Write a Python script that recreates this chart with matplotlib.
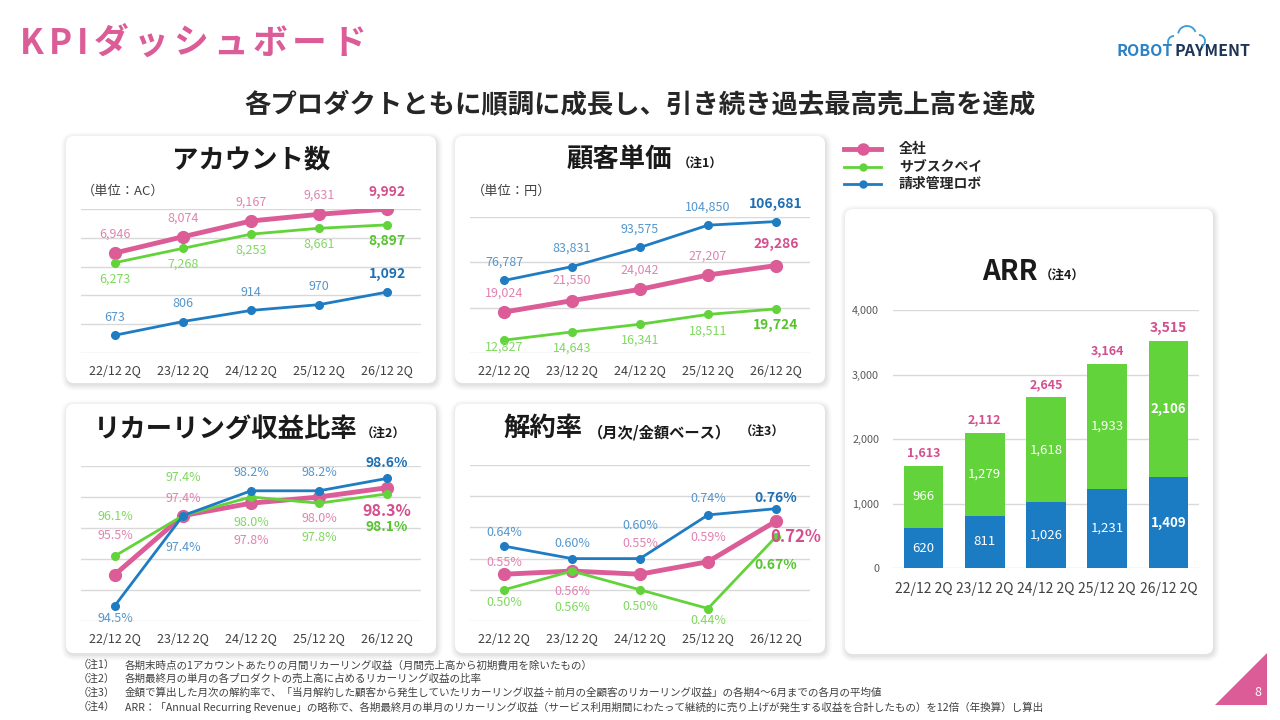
import numpy as np
import matplotlib
matplotlib.use('Agg')
import matplotlib.pyplot as plt
from matplotlib.patches import FancyBboxPatch, Polygon, Arc

plt.rcParams['font.family'] = ['Noto Sans CJK JP', 'DejaVu Sans']

# ---- データ ----
periods = ['22/12 2Q', '23/12 2Q', '24/12 2Q', '25/12 2Q', '26/12 2Q']
series_names = ['全社', 'サブスクペイ', '請求管理ロボ']

accounts_total = [6946, 8074, 9167, 9631, 9992]
accounts_subscpay = [6273, 7268, 8253, 8661, 8897]
accounts_robo = [673, 806, 914, 970, 1092]

price_total = [19024, 21550, 24042, 27207, 29286]
price_subscpay = [12827, 14643, 16341, 18511, 19724]
price_robo = [76787, 83831, 93575, 104850, 106681]

recurring_total = [95.5, 97.4, 97.8, 98.0, 98.3]
recurring_subscpay = [96.1, 97.4, 98.0, 97.8, 98.1]
recurring_robo = [94.5, 97.4, 98.2, 98.2, 98.6]

churn_total = [0.55, 0.56, 0.55, 0.59, 0.72]
churn_subscpay = [0.50, 0.56, 0.50, 0.44, 0.67]
churn_robo = [0.64, 0.60, 0.60, 0.74, 0.76]

arr_robo = [620, 811, 1026, 1231, 1409]
arr_subscpay = [966, 1279, 1618, 1933, 2106]
arr_total = [1613, 2112, 2645, 3164, 3515]

notes = [
    ('（注1）', '各期末時点の1アカウントあたりの月間リカーリング収益（月間売上高から初期費用を除いたもの）'),
    ('（注2）', '各期最終月の単月の各プロダクトの売上高に占めるリカーリング収益の比率'),
    ('（注3）', '金額で算出した月次の解約率で、「当月解約した顧客から発生していたリカーリング収益÷前月の全顧客のリカーリング収益」の各期4～6月までの各月の平均値'),
    ('（注4）', 'ARR：「Annual Recurring Revenue」の略称で、各期最終月の単月のリカーリング収益（サービス利用期間にわたって継続的に売り上げが発生する収益を合計したもの）を12倍（年換算）し算出'),
]

# ---- 色 ----
PINK, PINK_L, PINK_D = '#DB5C97', '#E183B0', '#D44F8E'
GREEN, GREEN_L, GREEN_D = '#62D33A', '#80D860', '#56C42F'
BLUE, BLUE_L, BLUE_D = '#1F7CC2', '#5596CD', '#1E6FB3'
GRID = '#D9D9D9'
TXT = '#404040'

W, H = 1280, 720
fig = plt.figure(figsize=(12.8, 7.2), dpi=100)
bg = fig.add_axes([0, 0, 1, 1])
bg.set_xlim(0, W)
bg.set_ylim(H, 0)
bg.axis('off')


def panel(x0, y0, x1, y1):
    for i, a in enumerate([0.035, 0.03, 0.025, 0.02]):
        d = 1 + i * 1.5
        bg.add_patch(FancyBboxPatch((x0 - d + 1, y0 - d + 2), x1 - x0 + 2 * d, y1 - y0 + 2 * d,
                                    boxstyle='round,pad=0,rounding_size=%f' % (8 + d),
                                    fc='black', ec='none', alpha=a, zorder=1))
    bg.add_patch(FancyBboxPatch((x0, y0), x1 - x0, y1 - y0,
                                boxstyle='round,pad=0,rounding_size=8',
                                fc='white', ec='none', zorder=2))


def chart_axes(x0, y0, x1, y1):
    ax = fig.add_axes([x0 / W, 1 - y1 / H, (x1 - x0) / W, (y1 - y0) / H])
    ax.set_facecolor('none')
    for s in ax.spines.values():
        s.set_visible(False)
    ax.set_xlim(-0.5, 4.5)
    return ax


def style_grid(ax, ticks, fs=9, pad=8):
    ax.set_yticks(ticks)
    ax.set_yticklabels([])
    ax.tick_params(axis='y', length=0)
    ax.grid(True, axis='y', color=GRID, lw=1)
    ax.set_axisbelow(True)
    ax.set_xticks(range(len(periods)))
    ax.set_xticklabels(periods, fontsize=fs, color=TXT)
    ax.tick_params(axis='x', length=0, pad=pad)


def twin(ax, ylim):
    a2 = ax.twinx()
    a2.set_ylim(*ylim)
    a2.set_facecolor('none')
    for s in a2.spines.values():
        s.set_visible(False)
    a2.set_yticks([])
    return a2


def draw_series(ax, vals, color, lw, ms, lab_c, last_c, offs, fmt, fs=9, last_fs=10, z=3):
    x = np.arange(len(vals))
    ax.plot(x, vals, color=color, lw=lw, marker='o', ms=ms, zorder=z, solid_capstyle='round')
    for i, v in enumerate(vals):
        o = offs[i]
        dx, dy = (o if isinstance(o, tuple) else (0, o))
        last = i == len(vals) - 1
        ax.annotate(fmt(v), (i, v), xytext=(dx * 0.72, dy * 0.72), textcoords='offset points',
                    ha='center', va='center', fontsize=last_fs if last else fs,
                    color=last_c if last else lab_c, fontweight='bold' if last else 'normal',
                    zorder=5, annotation_clip=False)


def comma(v):
    return '{:,}'.format(v)


# ---- 見出し ----
r = fig.canvas.get_renderer()
x = 20
for ch in 'KPIダッシュボード':
    t = bg.text(x, 43, ch, ha='left', va='center', fontsize=25, fontweight='bold', color=PINK)
    x += t.get_window_extent(renderer=r).width + 5

bg.text(640, 106, '各プロダクトともに順調に成長し、引き続き過去最高売上高を達成',
        ha='center', va='center', fontsize=19, fontweight='bold', color='#262626')

# ロゴ
bg.text(1117, 51, 'ROBOT', ha='left', va='center', fontsize=11.5, fontweight='bold', color='#2B82C5')
bg.text(1175, 51, 'PAYMENT', ha='left', va='center', fontsize=11.5, fontweight='bold', color='#1D3557')
for cx, cy, rr, t1, t2 in [(1174, 42, 6, 90, 200), (1187, 35, 9, 20, 170), (1199, 41, 6, -60, 90)]:
    bg.add_patch(Arc((cx, cy), 2 * rr, 2 * rr, theta1=-t2, theta2=-t1, color='#3A9BD9', lw=1.3, zorder=3))

# ページ番号
bg.add_patch(Polygon([(1215, 705), (1267, 653), (1267, 705)], closed=True, fc=PINK, ec='none', zorder=3))
bg.text(1258, 693, '8', ha='center', va='center', fontsize=9, color='white', zorder=4)

# ---- パネル ----
panel(66, 136, 436, 383)
panel(455, 136, 825, 383)
panel(66, 404, 436, 653)
panel(455, 404, 825, 653)
panel(845, 209, 1213, 654)

bg.text(251, 160, 'アカウント数', ha='center', va='center', fontsize=19, fontweight='bold', color='#1A1A1A', zorder=4)
bg.text(82, 191, '（単位：AC）', ha='left', va='center', fontsize=9.5, color=TXT, zorder=4)
bg.text(619, 160, '顧客単価', ha='center', va='center', fontsize=19, fontweight='bold', color='#1A1A1A', zorder=4)
bg.text(678, 164, '（注1）', ha='left', va='center', fontsize=9, fontweight='bold', color='#1A1A1A', zorder=4)
bg.text(472, 191, '（単位：円）', ha='left', va='center', fontsize=9.5, color=TXT, zorder=4)
bg.text(226, 430, 'リカーリング収益比率', ha='center', va='center', fontsize=19, fontweight='bold', color='#1A1A1A', zorder=4)
bg.text(361, 434, '（注2）', ha='left', va='center', fontsize=9, fontweight='bold', color='#1A1A1A', zorder=4)
bg.text(543, 428, '解約率', ha='center', va='center', fontsize=19, fontweight='bold', color='#1A1A1A', zorder=4)
bg.text(588, 432, '（月次/金額ベース）', ha='left', va='center', fontsize=11, fontweight='bold', color='#1A1A1A', zorder=4)
bg.text(740, 432, '（注3）', ha='left', va='center', fontsize=9, fontweight='bold', color='#1A1A1A', zorder=4)
bg.text(1010, 272, 'ARR', ha='center', va='center', fontsize=20, fontweight='bold', color='#1A1A1A', zorder=4)
bg.text(1040, 276, '（注4）', ha='left', va='center', fontsize=9, fontweight='bold', color='#1A1A1A', zorder=4)

# 凡例
for (name, c, lw, ms), yy in zip([(series_names[0], PINK, 3.5, 8), (series_names[1], GREEN, 2, 5),
                                   (series_names[2], BLUE, 2, 5)], [149, 167, 184]):
    bg.plot([844, 881], [yy, yy], color=c, lw=lw, zorder=4)
    bg.plot([862.5], [yy], marker='o', color=c, ms=ms, zorder=4)
    bg.text(899, yy, name, ha='left', va='center', fontsize=10, fontweight='bold', color='#262626', zorder=4)

# 注記
for i, (tag, txt) in enumerate(notes):
    yy = 665 + i * 14
    bg.text(78, yy, tag, ha='left', va='center', fontsize=7.6, color=TXT)
    bg.text(125, yy, txt, ha='left', va='center', fontsize=7.6, color=TXT)

# ---- アカウント数 ----
ax = chart_axes(81, 209, 421, 353)
ax.set_ylim(0, 10000)
style_grid(ax, np.arange(0, 10001, 2000))
draw_series(ax, accounts_total, PINK, 3.5, 8.5, PINK_L, PINK_D, [19] * 4 + [17], comma)
draw_series(ax, accounts_subscpay, GREEN, 2, 5.5, GREEN_L, GREEN_D, [-16] * 5, comma)
axb = twin(ax, (500, 1900))
draw_series(axb, accounts_robo, BLUE, 2, 5.5, BLUE_L, BLUE_D, [18] * 5, comma)

# ---- 顧客単価 ----
ax = chart_axes(470, 217, 810, 353)
ax.set_ylim(10000, 40000)
style_grid(ax, np.arange(10000, 40001, 10000))
draw_series(ax, price_total, PINK, 3.5, 8.5, PINK_L, PINK_D, [19, 20, 19, 19, 22], comma)
draw_series(ax, price_subscpay, GREEN, 2, 5.5, GREEN_L, GREEN_D, [-7, -16, -16, -17, -16], comma)
axb = twin(ax, (40000, 109000))
draw_series(axb, price_robo, BLUE, 2, 5.5, BLUE_L, BLUE_D, [18] * 5, comma)

# ---- リカーリング収益比率 ----
pct1 = lambda v: '{:.1f}%'.format(v)
ax = chart_axes(81, 466, 421, 621)
ax.set_ylim(94, 99)
style_grid(ax, np.arange(94, 99.1, 1))
draw_series(ax, recurring_total, PINK, 3.5, 8.5, PINK_L, PINK_D, [39, 17, -37, -22, -23], pct1, last_fs=11.5)
draw_series(ax, recurring_subscpay, GREEN, 2, 5.5, GREEN_L, GREEN_D, [39, 38, -25, -34, -33], pct1)
draw_series(ax, recurring_robo, BLUE, 2, 5.5, BLUE_L, BLUE_D, [-13, -32, 18, 18, 15], pct1)

# ---- 解約率 ----
pct2 = lambda v: '{:.2f}%'.format(v)
ax = chart_axes(470, 465, 810, 621)
ax.set_ylim(0.4, 0.9)
style_grid(ax, np.arange(0.4, 0.91, 0.1))
draw_series(ax, churn_total, PINK, 3.5, 8.5, PINK_L, PINK_D, [12, -20, 31, 24, (20, -16)], pct2, last_fs=12)
draw_series(ax, churn_subscpay, GREEN, 2, 5.5, GREEN_L, GREEN_D, [-13, -36, -17, -12, -28], pct2)
draw_series(ax, churn_robo, BLUE, 2, 5.5, BLUE_L, BLUE_D, [14, 15, 33, 16, 11], pct2)

# ---- ARR ----
ax = chart_axes(893, 310, 1199, 568)
ax.set_ylim(0, 4000)
ax.set_yticks(np.arange(0, 4001, 1000))
ax.set_yticklabels([comma(v) for v in range(0, 4001, 1000)], fontsize=7.8, color='#595959')
ax.tick_params(axis='y', length=0, pad=10)
ax.grid(True, axis='y', color=GRID, lw=1)
ax.set_axisbelow(True)
ax.set_xticks(range(len(periods)))
ax.set_xticklabels(periods, fontsize=10, color=TXT)
ax.tick_params(axis='x', length=0, pad=10)
xs = np.arange(len(periods))
ax.bar(xs, arr_robo, width=0.65, color='#1B7CC4', zorder=3)
ax.bar(xs, arr_subscpay, width=0.65, bottom=arr_robo, color=GREEN, zorder=3)
for i in xs:
    last = i == len(xs) - 1
    fw = 'bold' if last else 'normal'
    ax.text(i, arr_robo[i] / 2, comma(arr_robo[i]), ha='center', va='center', fontsize=9.5,
            color='white', fontweight=fw, zorder=4)
    ax.text(i, arr_robo[i] + arr_subscpay[i] / 2, comma(arr_subscpay[i]), ha='center', va='center',
            fontsize=9.5, color='white', fontweight=fw, zorder=4)
    ax.annotate(comma(arr_total[i]), (i, arr_robo[i] + arr_subscpay[i]), xytext=(0, 13 * 0.72),
                textcoords='offset points', ha='center', va='center', fontsize=10 if last else 9,
                color=PINK_D, fontweight='bold', zorder=4)

fig.savefig('out.png', dpi=100)
